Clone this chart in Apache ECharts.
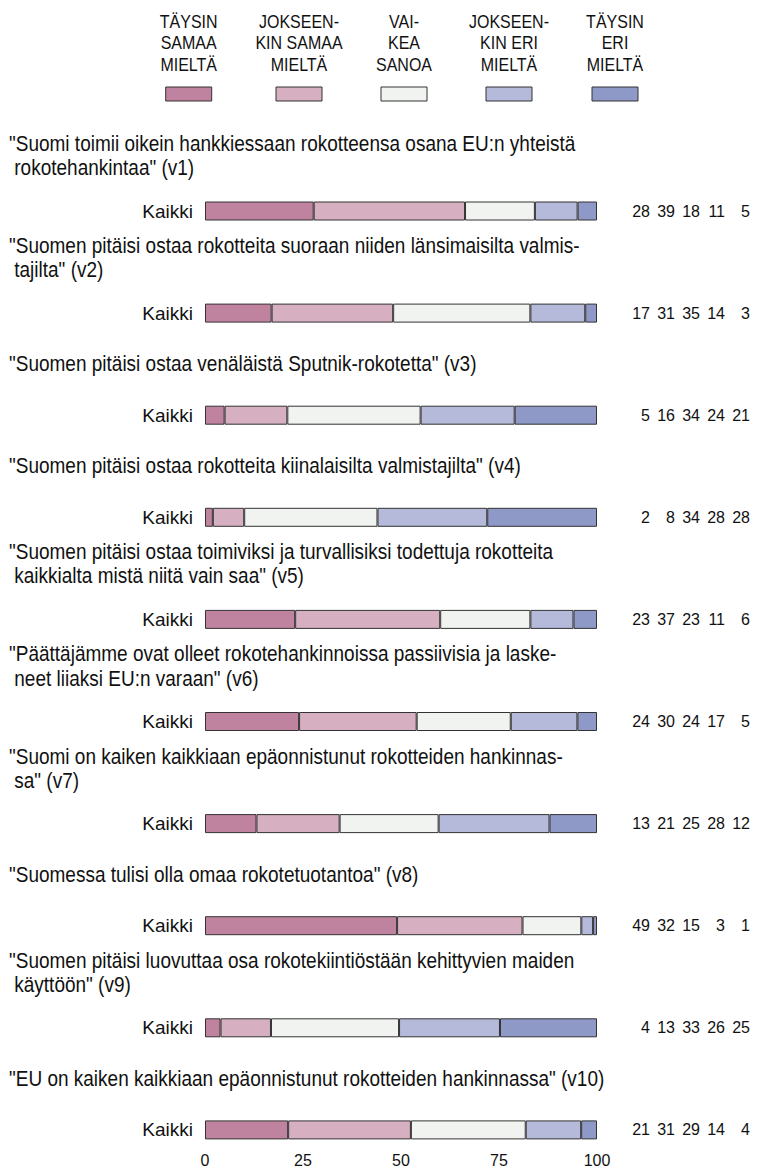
<!DOCTYPE html>
<html>
<head>
<meta charset="utf-8">
<script src="https://cdn.jsdelivr.net/npm/echarts@6/dist/echarts.min.js"></script>
<style>
  html, body { margin: 0; padding: 0; background: #fff; }
  #main { width: 772px; height: 1173px; }
</style>
</head>
<body>
<div id="main"></div>
<script>
// vastausvaihtoehdot (legenda)
const answerLabels = [
  ['TÄYSIN', 'SAMAA', 'MIELTÄ'],
  ['JOKSEEN-', 'KIN SAMAA', 'MIELTÄ'],
  ['VAI-', 'KEA', 'SANOA'],
  ['JOKSEEN-', 'KIN ERI', 'MIELTÄ'],
  ['TÄYSIN', 'ERI', 'MIELTÄ']
]
const groups = ['Kaikki']
const xTicks = [0, 25, 50, 75, 100]

// kysymysten otsikot
const questions = [
  ['"Suomi toimii oikein hankkiessaan rokotteensa osana EU:n yhteistä', ' rokotehankintaa" (v1)'],
  ['"Suomen pitäisi ostaa rokotteita suoraan niiden länsimaisilta valmis-', ' tajilta" (v2)'],
  ['"Suomen pitäisi ostaa venäläistä Sputnik-rokotetta" (v3)'],
  ['"Suomen pitäisi ostaa rokotteita kiinalaisilta valmistajilta" (v4)'],
  ['"Suomen pitäisi ostaa toimiviksi ja turvallisiksi todettuja rokotteita', ' kaikkialta mistä niitä vain saa" (v5)'],
  ['"Päättäjämme ovat olleet rokotehankinnoissa passiivisia ja laske-', ' neet liiaksi EU:n varaan" (v6)'],
  ['"Suomi on kaiken kaikkiaan epäonnistunut rokotteiden hankinnas-', ' sa" (v7)'],
  ['"Suomessa tulisi olla omaa rokotetuotantoa" (v8)'],
  ['"Suomen pitäisi luovuttaa osa rokotekiintiöstään kehittyvien maiden', ' käyttöön" (v9)'],
  ['"EU on kaiken kaikkiaan epäonnistunut rokotteiden hankinnassa" (v10)']
]

// prosenttiosuudet
const v1 = [28, 39, 18, 11, 5]
const v2 = [17, 31, 35, 14, 3]
const v3 = [5, 16, 34, 24, 21]
const v4 = [2, 8, 34, 28, 28]
const v5 = [23, 37, 23, 11, 6]
const v6 = [24, 30, 24, 17, 5]
const v7 = [13, 21, 25, 28, 12]
const v8 = [49, 32, 15, 3, 1]
const v9 = [4, 13, 33, 26, 25]
const v10 = [21, 31, 29, 14, 4]
const rows = [v1, v2, v3, v4, v5, v6, v7, v8, v9, v10]

const colors = ['#c0839f', '#d6afc1', '#f1f3f1', '#b5b9da', '#8f99c8']
const font = '"Liberation Sans", Arial, sans-serif'

const barTop = 201.5
const step = 102.1
const barH = 19
const last = rows.length - 1

let chart = echarts.init(document.getElementById('main'), null, { renderer: 'svg' })

let grid = rows.map((r, i) => ({ left: 205, width: 392, top: barTop + i * step, height: barH }))

let xAxis = rows.map((r, i) => ({
  gridIndex: i,
  type: 'value',
  min: 0,
  max: 100,
  interval: 25,
  show: i === last,
  offset: 3,
  axisLine: { lineStyle: { color: '#222' } },
  axisTick: { length: 7, lineStyle: { color: '#222' } },
  axisLabel: { fontSize: 16, color: '#111', fontFamily: font, margin: 10,
    formatter: (v) => xTicks.includes(v) ? String(v) : '' },
  splitLine: { show: false }
}))

let yAxis = []
rows.forEach((r, i) => {
  yAxis.push({
    gridIndex: i,
    type: 'category',
    data: groups,
    axisLine: { show: false },
    axisTick: { show: false },
    axisLabel: { fontSize: 19, color: '#111', fontFamily: font, margin: 12 }
  })
  // luvut oikealla
  yAxis.push({
    gridIndex: i,
    type: 'category',
    position: 'right',
    data: [r.join(',')],
    axisLine: { show: false },
    axisTick: { show: false },
    axisLabel: {
      margin: 28,
      formatter: (v) => v.split(',').map(n => '{n|' + n + '}').join(''),
      rich: { n: { width: 25, align: 'right', fontSize: 16, color: '#111', fontFamily: font } }
    }
  })
})

let series = []
rows.forEach((r, i) => {
  const sum = r.reduce((a, b) => a + b, 0)
  r.forEach((val, k) => {
    series.push({
      type: 'bar',
      xAxisIndex: i,
      yAxisIndex: i * 2,
      stack: 'q' + i,
      barWidth: '100%',
      silent: true,
      data: [val * 100 / sum],
      itemStyle: { color: colors[k], borderColor: '#333', borderWidth: 1 }
    })
  })
})

let graphic = []
const legendX = [188.7, 299, 404, 509, 615]
answerLabels.forEach((lines, k) => {
  graphic.push({
    type: 'text', x: legendX[k], y: 43, scaleY: 1.15,
    style: { text: lines.join('\n'), fontSize: 16, fontFamily: font, fill: '#111',
      align: 'center', verticalAlign: 'middle', lineHeight: 19 }
  })
  graphic.push({
    type: 'rect',
    shape: { x: legendX[k] - 23, y: 87, width: 46, height: 14 },
    style: { fill: colors[k], stroke: '#333', lineWidth: 1 }
  })
})
questions.forEach((lines, i) => {
  const c = barTop + i * step + barH / 2
  graphic.push({
    type: 'text', x: 9, y: lines.length > 1 ? c - 56 : c - 52, scaleY: 1.15,
    style: { text: lines.join('\n'), fontSize: 19, fontFamily: font, fill: '#111',
      align: 'left', verticalAlign: 'middle', lineHeight: 21 }
  })
})

let option = {
  animation: false,
  backgroundColor: '#fff',
  grid,
  xAxis,
  yAxis,
  series,
  graphic
}
chart.setOption(option)
</script>
</body>
</html>
